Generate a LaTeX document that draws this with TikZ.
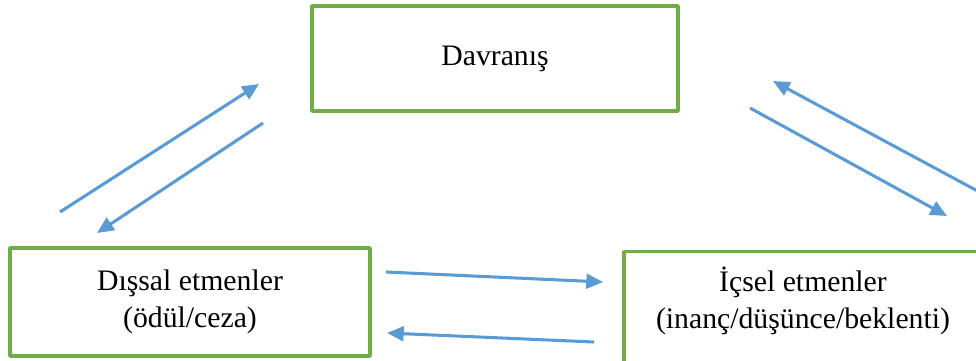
\documentclass[tikz,border=0pt]{standalone}
\usepackage{fontspec}
\setmainfont{Liberation Serif}
\usetikzlibrary{arrows.meta}
\definecolor{xanhla}{HTML}{70AD47}
\definecolor{xanhduong}{HTML}{5B9BD5}
\begin{document}
\begin{tikzpicture}[x=0.75pt, y=-0.75pt, font=\fontsize{22.3}{28}\selectfont, line join=round, >={Triangle[length=12.5pt,width=11pt]}]
			%Khung hình.
			\useasboundingbox (0,0) rectangle (976,361);
			\tikzset{hop/.style={draw=xanhla, line width=2.6pt, align=center, inner sep=0pt},
				muiten/.style={->, draw=xanhduong, line width=2.3pt}}
			%Các hộp.
			\node[hop, minimum width=274.5pt, minimum height=78.75pt] (DV) at (495,58.5) {Davranış};
			\node[hop, minimum width=270pt, minimum height=81pt] (DS) at (190,302) {Dışsal etmenler\\(ödül/ceza)};
			\node[hop, minimum width=270pt, minimum height=92pt, anchor=north] (IC) at (804,250) {};
			\node[align=center, inner sep=0pt] (ICchu) at (803,301) {İçsel etmenler\\(inanç/düşünce/beklenti)};
			%Gán tọa độ.
			\coordinate (A1) at (60,212); \coordinate (A2) at (259,84);
			\coordinate (B1) at (263,123); \coordinate (B2) at (97,233);
			\coordinate (C1) at (985,195); \coordinate (C2) at (773,81);
			\coordinate (E1) at (750,108); \coordinate (E2) at (947,216);
			\coordinate (F1) at (386,272); \coordinate (F2) at (603,282);
			\coordinate (G1) at (594,342); \coordinate (G2) at (387,333);
			%Mũi tên.
			\draw[muiten] (A1)--(A2);
			\draw[muiten] (B1)--(B2);
			\draw[muiten] (C1)--(C2);
			\draw[muiten] (E1)--(E2);
			\draw[muiten] (F1)--(F2);
			\draw[muiten] (G1)--(G2);
		\end{tikzpicture}
\end{document}
